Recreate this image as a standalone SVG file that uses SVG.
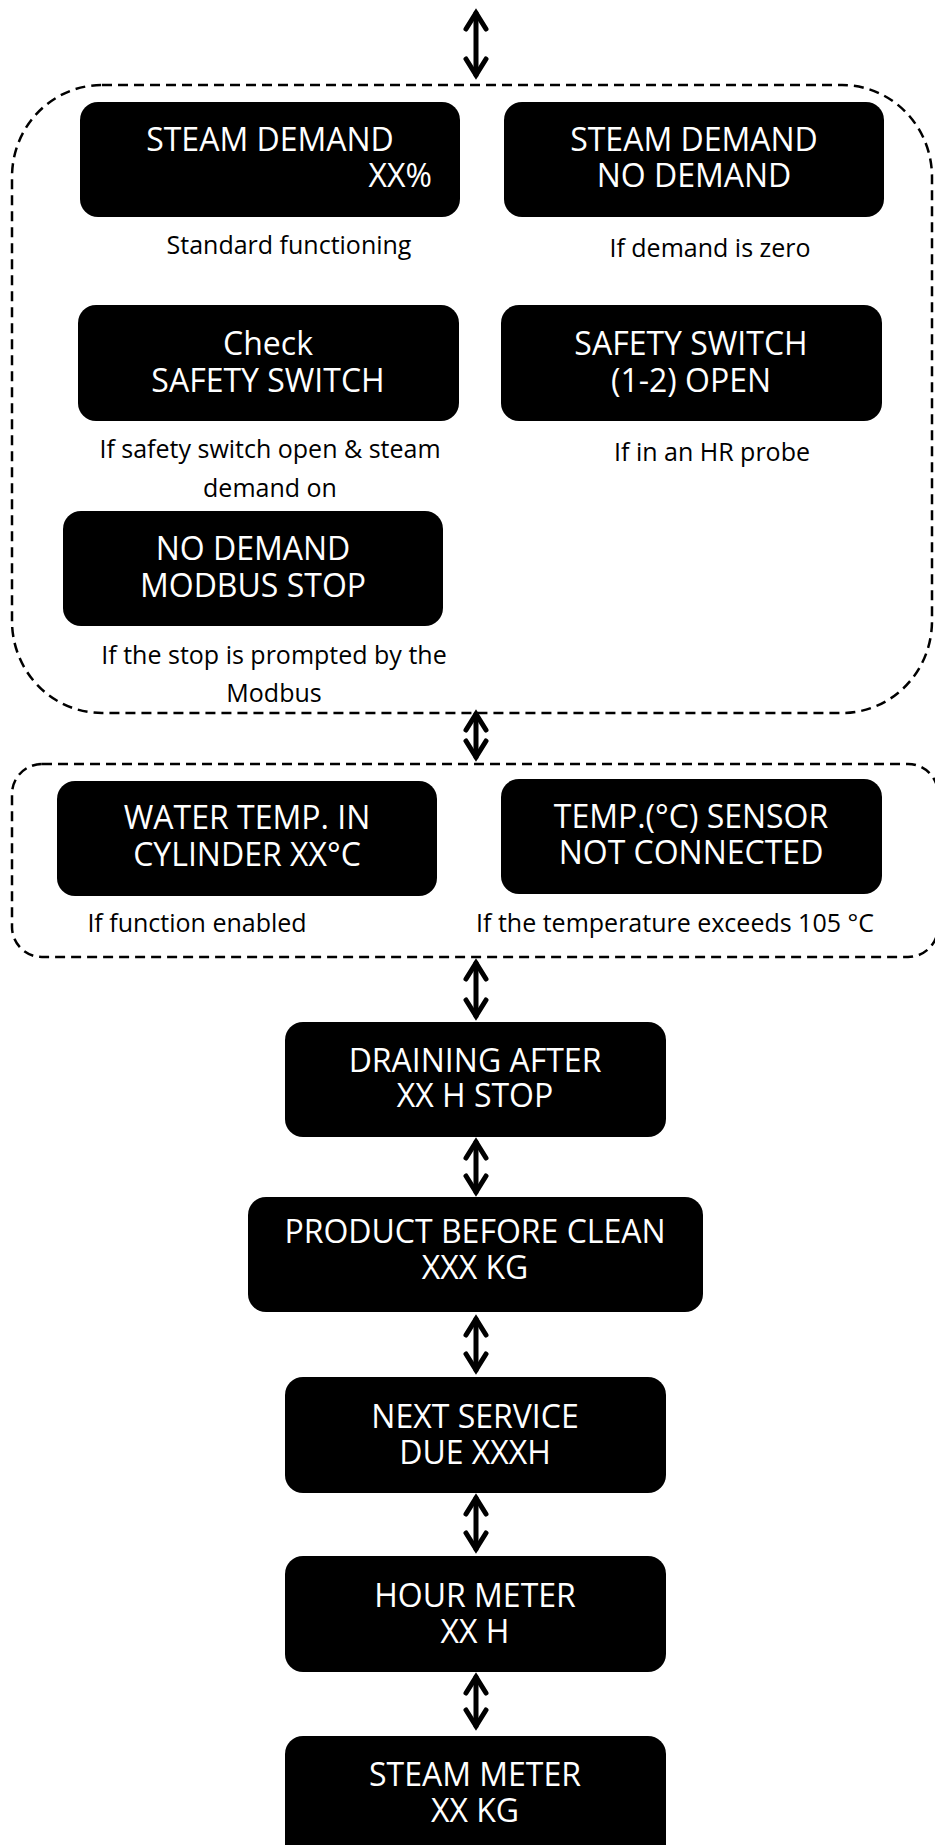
<svg xmlns="http://www.w3.org/2000/svg" width="935" height="1845" viewBox="0 0 935 1845">
<style>
.node rect{fill:#000}
.node text{fill:#fff;font-family:'Open Sans',sans-serif;font-size:32px;text-anchor:middle}
.cap{fill:#000;font-family:'Open Sans',sans-serif;font-size:25px;text-anchor:middle}
.grp{fill:none;stroke:#000;stroke-width:2.5;stroke-dasharray:10 6}
.arr{fill:none;stroke:#000;stroke-width:5;stroke-linecap:round;marker-start:url(#ah);marker-end:url(#ah)}
</style>
<defs>
<marker id="ah" viewBox="0 0 30 30" refX="26" refY="15" markerWidth="30" markerHeight="30" markerUnits="userSpaceOnUse" orient="auto-start-reverse" overflow="visible">
<path d="M10,5 L26,15 L10,25" fill="none" stroke="#000" stroke-width="5" stroke-linecap="round" stroke-linejoin="miter"/>
</marker>
</defs>
<rect id="group1" class="grp" x="12" y="85" width="920" height="628" rx="90" ry="92"/>
<rect id="group2" class="grp" x="12" y="764" width="926" height="193" rx="30" ry="30"/>
<g id="connectors">
<line class="arr" x1="476" y1="13" x2="476" y2="75"/>
<line class="arr" x1="476" y1="714" x2="476" y2="757"/>
<line class="arr" x1="476" y1="963" x2="476" y2="1016"/>
<line class="arr" x1="476" y1="1142" x2="476" y2="1192"/>
<line class="arr" x1="476" y1="1319" x2="476" y2="1370"/>
<line class="arr" x1="476" y1="1498" x2="476" y2="1549"/>
<line class="arr" x1="476" y1="1677" x2="476" y2="1726"/>
</g>
<g id="n1" class="node"><rect x="80" y="102" width="380" height="115" rx="18"/><text x="270" y="151">STEAM DEMAND</text><text x="432" y="187" style="text-anchor:end">XX%</text></g>
<text id="c1" class="cap" x="289" y="254">Standard functioning</text>
<g id="n2" class="node"><rect x="504" y="102" width="380" height="115" rx="18"/><text x="694" y="151">STEAM DEMAND</text><text x="694" y="187">NO DEMAND</text></g>
<text id="c2" class="cap" x="710" y="257">If demand is zero</text>
<g id="n3" class="node"><rect x="78" y="305" width="381" height="116" rx="18"/><text x="268" y="355">Check</text><text x="268" y="392">SAFETY SWITCH</text></g>
<text id="c3" class="cap" x="270" y="458">If safety switch open &amp; steam</text>
<text id="c3b" class="cap" x="270" y="497">demand on</text>
<g id="n4" class="node"><rect x="501" y="305" width="381" height="116" rx="18"/><text x="691" y="355">SAFETY SWITCH</text><text x="691" y="392">(1-2) OPEN</text></g>
<text id="c4" class="cap" x="712" y="461">If in an HR probe</text>
<g id="n5" class="node"><rect x="63" y="511" width="380" height="115" rx="18"/><text x="253" y="560">NO DEMAND</text><text x="253" y="597">MODBUS STOP</text></g>
<text id="c5" class="cap" x="274" y="664">If the stop is prompted by the</text>
<text id="c5b" class="cap" x="274" y="702">Modbus</text>
<g id="n6" class="node"><rect x="57" y="781" width="380" height="115" rx="18"/><text x="247" y="829">WATER TEMP. IN</text><text x="247" y="866">CYLINDER XX°C</text></g>
<text id="c6" class="cap" x="197" y="932">If function enabled</text>
<g id="n7" class="node"><rect x="501" y="779" width="381" height="115" rx="18"/><text x="691" y="828">TEMP.(°C) SENSOR</text><text x="691" y="864">NOT CONNECTED</text></g>
<text id="c7" class="cap" x="675" y="932">If the temperature exceeds 105 °C</text>
<g id="n8" class="node"><rect x="285" y="1022" width="381" height="115" rx="18"/><text x="475" y="1072">DRAINING AFTER</text><text x="475" y="1107">XX H STOP</text></g>
<g id="n9" class="node"><rect x="248" y="1197" width="455" height="115" rx="18"/><text x="475" y="1243">PRODUCT BEFORE CLEAN</text><text x="475" y="1279">XXX KG</text></g>
<g id="n10" class="node"><rect x="285" y="1377" width="381" height="116" rx="18"/><text x="475" y="1428">NEXT SERVICE</text><text x="475" y="1464">DUE XXXH</text></g>
<g id="n11" class="node"><rect x="285" y="1556" width="381" height="116" rx="18"/><text x="475" y="1607">HOUR METER</text><text x="475" y="1643">XX H</text></g>
<g id="n12" class="node"><rect x="285" y="1736" width="381" height="130" rx="18"/><text x="475" y="1786">STEAM METER</text><text x="475" y="1822">XX KG</text></g>
</svg>
